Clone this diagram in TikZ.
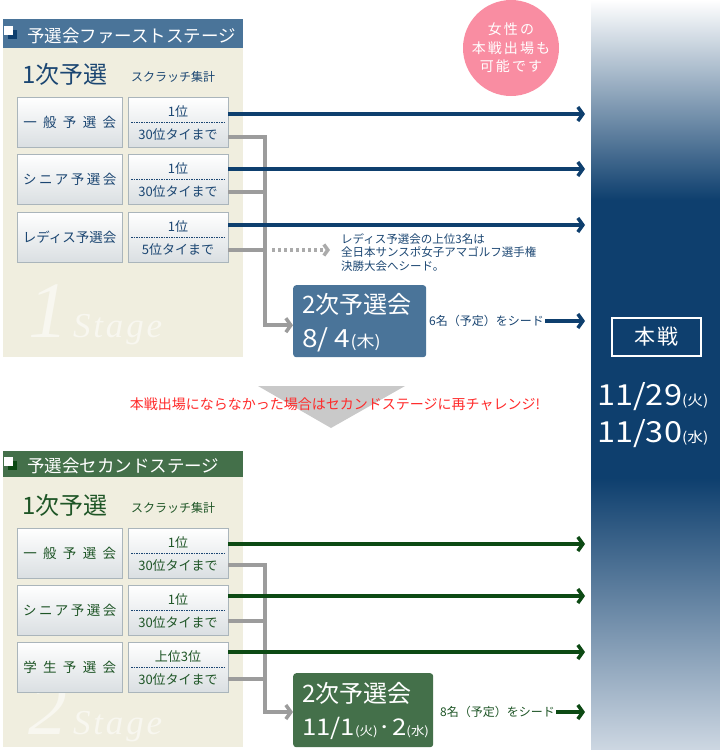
\documentclass[tikz,border=0pt]{standalone}
\usepackage{fontspec}
\setmainfont{Noto Sans CJK JP}
\newfontfamily\figfont[FakeStretch=1.12]{Noto Sans CJK JP}
\newfontfamily\stagefont{Liberation Serif}
\usepackage{tikz}
\usetikzlibrary{arrows.meta,positioning}
\definecolor{navy}{HTML}{0E3F6E}
\definecolor{steel}{HTML}{4A7499}
\definecolor{panel}{HTML}{F0EEDF}
\definecolor{forest}{HTML}{44704A}
\definecolor{pine}{HTML}{0D4A14}
\definecolor{inknavy}{HTML}{1B4672}
\definecolor{inkgreen}{HTML}{1E5526}
\definecolor{rose}{HTML}{F98DA2}
\definecolor{tiegray}{HTML}{9C9C9C}
\definecolor{dotgray}{HTML}{ABABAB}
\definecolor{boxedge}{HTML}{AAB5BB}
\definecolor{boxshade}{HTML}{DADFE2}
\definecolor{mark}{HTML}{F8F7F0}
\definecolor{alert}{HTML}{FF2A2A}
\definecolor{colfoot}{HTML}{CDD7E2}
\newcommand{\fsz}[2]{\fontsize{#1}{#2}\selectfont}

\tikzset{
  entrybox/.style={draw=boxedge, top color=white, bottom color=boxshade, anchor=north west,
    minimum width=105pt, minimum height=50pt, inner sep=0pt},
  rankbox/.style={entrybox, minimum width=100pt},
  ranktxt/.style={inner sep=0pt, font=\fsz{13}{15}},
  rankrule/.style={line width=0.8pt, dash pattern=on 1.5pt off 1pt},
  passline/.style={line width=3.5pt, -{Straight Barb[length=5pt,width=14pt]}},
  tieline/.style={draw=tiegray, line width=3.5pt},
  tiearrow/.style={tieline, -{Straight Barb[length=5pt,width=14pt]}},
  dotline/.style={draw=dotgray, line width=3.5pt, dash pattern=on 3pt off 3pt,
    -{Straight Barb[length=4pt,width=11pt]}},
  stagetitle/.style={anchor=base west, inner sep=0pt, text=white, font=\fsz{17.5}{20}},
  roundtitle/.style={anchor=base west, inner sep=0pt, font=\fsz{24}{26}},
  tally/.style={anchor=base west, inner sep=0pt, font=\fsz{12}{14}},
  secbox/.style={anchor=north west, rounded corners=3pt, inner sep=0pt},
  sectxt/.style={anchor=base west, inner sep=0pt, text=white},
  seedtxt/.style={anchor=west, inner sep=1pt, font=\fsz{12}{14}},
  watermark/.style={anchor=base west, inner sep=0pt, text=mark,
    font=\stagefont\itshape\fsz{#1}{#1}\addfontfeature{LetterSpace=8}}
}

\begin{document}
\begin{tikzpicture}[x=1pt,y=-1pt]
\useasboundingbox (0,0) rectangle (720,750);

% main event column
\fill[navy] (591,0) rectangle (720,750);
\shade[top color=white, bottom color=navy] (591,0) rectangle (720,200);
\shade[top color=navy, bottom color=colfoot] (591,478) rectangle (720,750);

\node[draw=white, line width=2pt, minimum width=89pt, minimum height=38pt, inner sep=0pt,
      text=white, font=\fsz{21}{24}\addfontfeature{LetterSpace=10}] (finals) at (656.5,337) {本戦};
\node[anchor=base west, inner sep=0pt, text=white, font=\figfont] (date1) at (597,405) {{\fsz{29}{30}11/29}{\fsz{14}{16}(火)}};
\node[anchor=base west, inner sep=0pt, text=white, font=\figfont] (date2) at (597,442) {{\fsz{29}{30}11/30}{\fsz{14}{16}(水)}};

\node[circle, fill=rose, minimum size=96pt, inner sep=0pt, align=center, text=white,
      font=\fsz{14}{18.5}\addfontfeature{LetterSpace=15}] (badge) at (511,48) {女性の\\本戦出場も\\可能です};

% first stage
\fill[steel] (3,19) rectangle (243,48);
\fill[panel] (3,48) rectangle (243,357);
\fill[navy] (8,30) rectangle (17,39);
\fill[white] (4,26) rectangle (13,35);
\node[stagetitle] (head1) at (27,42) {予選会ファーストステージ};
\node[watermark=80] (mark1n) at (28,337) {1};
\node[watermark=35] (mark1w) at (73,337) {Stage};

\begin{scope}[every node/.append style={text=inknavy}]
\node[roundtitle] (round1) at (22,83) {1次予選};
\node[tally] (tally1) at (131,81) {スクラッチ集計};
\coordinate (tie1) at (265,250);
\foreach \nm/\T/\lab/\sp/\up/\lo/\py/\gy in {g1/97/一般予選会/47/1位/30位タイまで/114/137,
    s1/154/シニア予選会/18/1位/30位タイまで/169/192,
    l1/212/レディス予選会/0/1位/5位タイまで/225/250} {
  \node[entrybox, font=\fsz{13.5}{15}\addfontfeature{LetterSpace=\sp}] (\nm box) at (17,\T) {\lab};
  \node[rankbox] (\nm rank) at (128,\T) {};
  \node[ranktxt] (\nm up) at (178,\T+15) {\up};
  \draw[rankrule, inknavy] (131,\T+25) -- (225,\T+25);
  \node[ranktxt] (\nm lo) at (178,\T+38) {\lo};
  \coordinate (\nm end) at (585,\py);
  \draw[passline, navy] (\nm rank.east |- \nm end) -- (\nm end);
  \draw[tieline] (\nm rank.east |- 0,\gy) -| (tie1);
}
\node[secbox, fill=steel, minimum width=133pt, minimum height=72pt] (sec1) at (293,285) {};
\node[sectxt, font=\fsz{24}{26}] (sec1title) at (302,313) {2次予選会};
\node[sectxt, font=\figfont] (sec1date) at (302,347) {{\fsz{25}{27}8/ 4}{\fsz{16}{18}(木)}};
\draw[tiearrow] (tie1) |- ([yshift=-4pt]sec1.west);
\coordinate (dotend) at (330,250);
\draw[dotline] ([xshift=7pt]tie1) -- (dotend);
\node[anchor=north west, inner sep=0pt, align=left, font=\fsz{11.5}{13.5}] (ladiesnote) at (341,233)
  {レディス予選会の上位3名は\\全日本サンスポ女子アマゴルフ選手権\\決勝大会へシード。};
\node[seedtxt] (seed1) at (428,321) {6名（予定）をシード};
\coordinate (seed1end) at (585,321);
\draw[passline, navy] (seed1.east) -- (seed1end);
\end{scope}

% hand-over to second stage
\fill[black!21] (258,386) -- (405,386) -- (331,428) -- cycle;
\node[text=alert, font=\fsz{14}{16}] (retry) at (335,404) {本戦出場にならなかった場合はセカンドステージに再チャレンジ!};

% second stage
\fill[forest] (3,451) rectangle (243,477);
\fill[panel] (3,477) rectangle (243,747);
\fill[pine] (8,461) rectangle (17,470);
\fill[white] (4,457) rectangle (13,466);
\node[stagetitle] (head2) at (27,472) {予選会セカンドステージ};
\node[watermark=78] (mark2n) at (28,734) {2};
\node[watermark=35] (mark2w) at (73,734) {Stage};

\begin{scope}[every node/.append style={text=inkgreen}]
\node[roundtitle] (round2) at (22,514) {1次予選};
\node[tally] (tally2) at (131,512) {スクラッチ集計};
\coordinate (tie2) at (265,679);
\foreach \nm/\T/\lab/\sp/\up/\lo/\py/\gy in {g2/528/一般予選会/47/1位/30位タイまで/544/565,
    s2/585/シニア予選会/18/1位/30位タイまで/596/621,
    u2/642/学生予選会/47/上位3位/30位タイまで/652/679} {
  \node[entrybox, font=\fsz{13.5}{15}\addfontfeature{LetterSpace=\sp}] (\nm box) at (17,\T) {\lab};
  \node[rankbox] (\nm rank) at (128,\T) {};
  \node[ranktxt] (\nm up) at (178,\T+15) {\up};
  \draw[rankrule, inknavy] (131,\T+25) -- (225,\T+25);
  \node[ranktxt] (\nm lo) at (178,\T+38) {\lo};
  \coordinate (\nm end) at (585,\py);
  \draw[passline, pine] (\nm rank.east |- \nm end) -- (\nm end);
  \draw[tieline] (\nm rank.east |- 0,\gy) -| (tie2);
}
\node[secbox, fill=forest, minimum width=140pt, minimum height=74pt] (sec2) at (293,673) {};
\node[sectxt, font=\fsz{24}{26}] (sec2title) at (302,702) {2次予選会};
\node[sectxt, font=\figfont] (sec2date) at (302,735) {{\fsz{23}{25}11/1}{\fsz{12}{14}(火)}{\fsz{23}{25}·2}{\fsz{12}{14}(水)}};
\draw[tiearrow] (tie2) |- (sec2.west |- 0,712);
\node[seedtxt] (seed2) at (439,712) {8名（予定）をシード};
\coordinate (seed2end) at (585,712);
\draw[passline, pine] (seed2.east) -- (seed2end);
\end{scope}
\end{tikzpicture}
\end{document}
